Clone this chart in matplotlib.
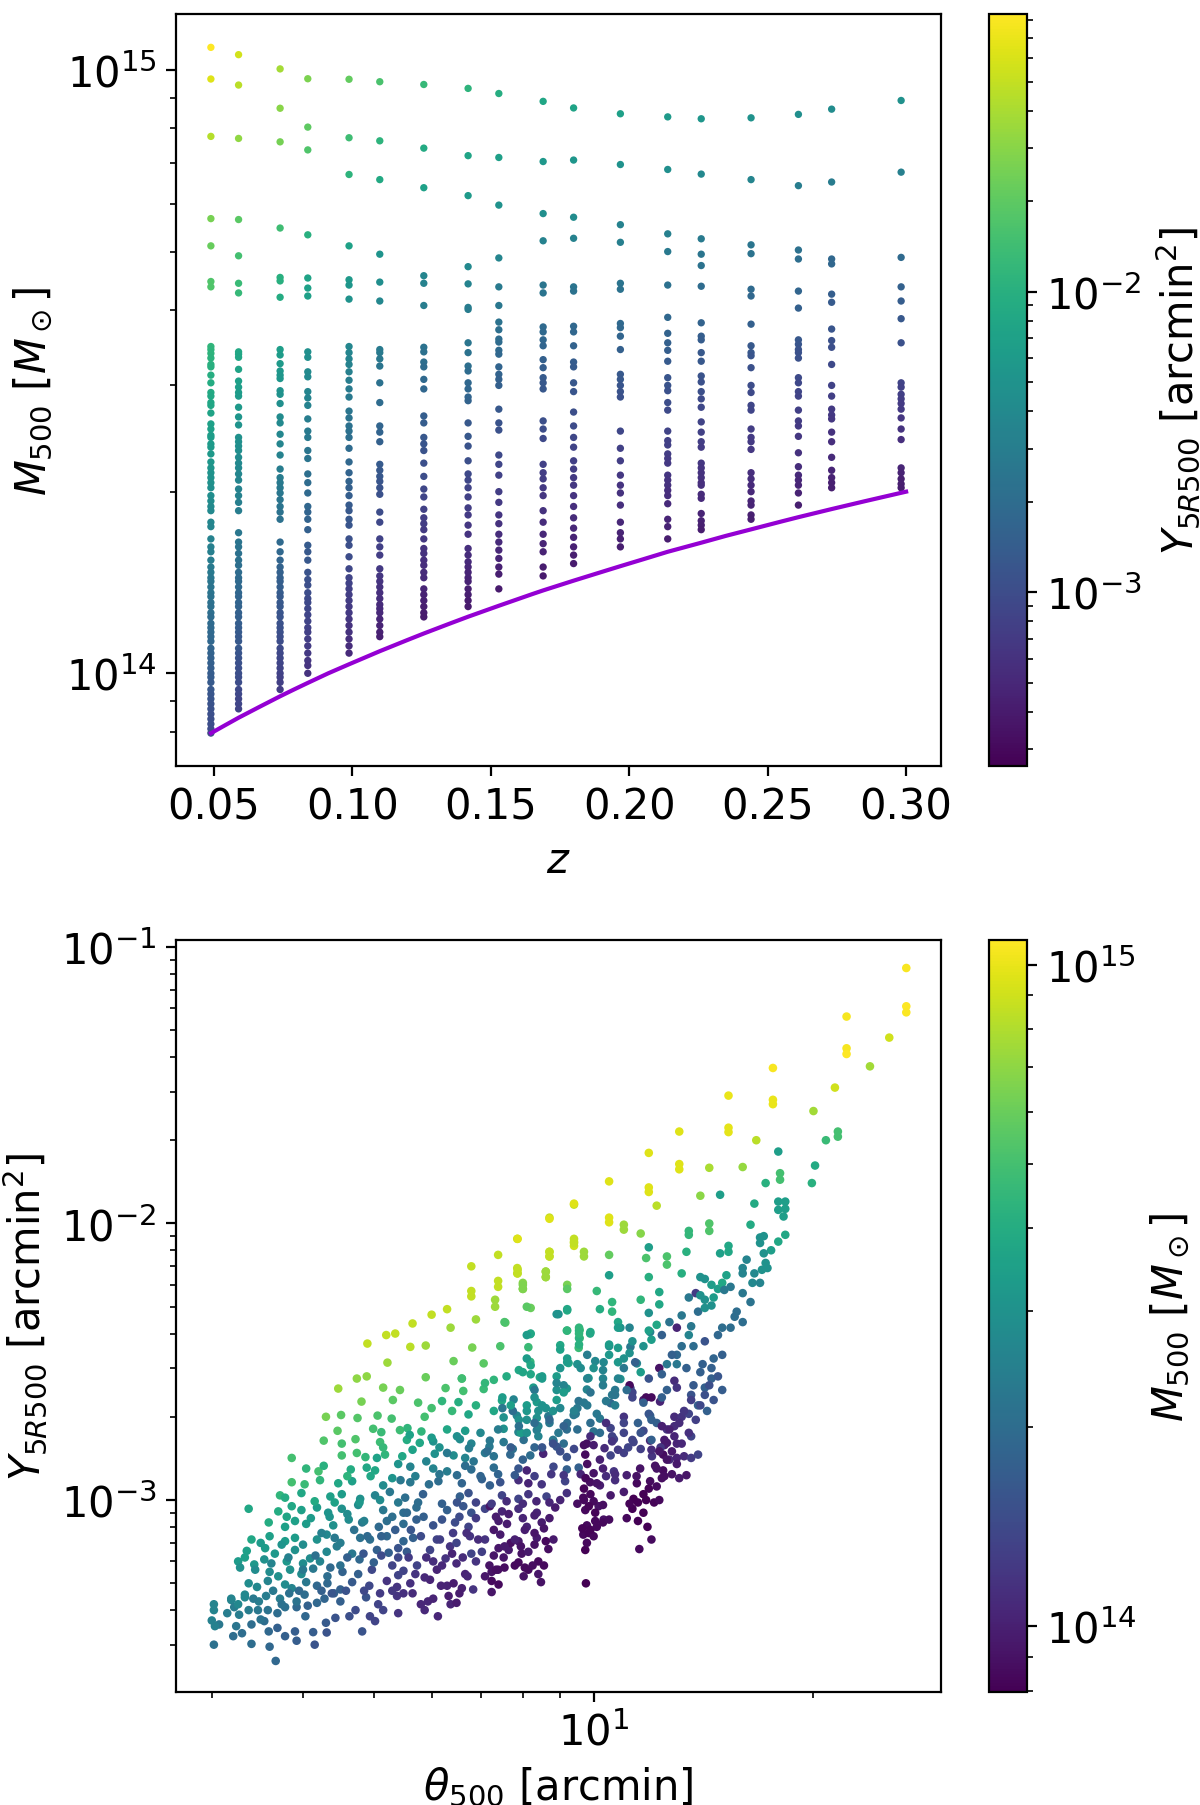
import numpy as np
import matplotlib
matplotlib.use('Agg')
import matplotlib.pyplot as plt
from matplotlib.colors import LogNorm

# top panel: redshift slices, M500 in 1e14 Msun, Y in 1e-3 arcmin^2
z_slices = [0.0489, 0.0589, 0.0739, 0.0839, 0.0988, 0.1099, 0.1258, 0.1418, 0.1529,
            0.1689, 0.1799, 0.1968, 0.2139, 0.2260, 0.2440, 0.2611, 0.2731, 0.2982]

M01 = [10.9,9.66,7.76,5.67,5.11,4.46,4.37,3.48,3.44,3.39,3.33,3.25,3.22,3.12,3.03,2.92,2.88,2.81,2.78,2.70,
       2.59,2.54,2.48,2.46,2.40,2.37,2.31,2.24,2.19,2.15,2.11,2.07,2.03,1.97,1.93,1.89,1.86,1.78,1.75,1.67,
       1.62,1.59,1.54,1.50,1.47,1.44,1.42,1.39,1.36,1.34,1.31,1.29,1.26,1.24,1.21,1.19,1.17,1.15,1.13,1.10,
       1.08,1.06,1.04,1.02,1.00,.985,.966,.94,.924,.907,.89,.873,.856,.84,.824,.809,.796]
Y01 = [83.9,63,44,26,22,17,17,11.5,11.2,11,10.6,10.2,10,9.6,9.1,8.5,8.3,8,7.9,7.5,
       7,6.8,6.5,6.4,6.1,6,5.8,5.5,5.3,5.1,4.9,4.8,4.6,4.4,4.3,4.1,4,3.7,3.6,3.3,
       3.2,3.1,2.9,2.8,2.7,2.6,2.5,2.45,2.4,2.3,2.2,2.15,2.1,2,1.95,1.9,1.85,1.8,1.75,1.65,
       1.6,1.55,1.5,1.45,1.4,1.37,1.33,1.27,1.23,1.2,1.15,1.12,1.08,1.05,1.02,.98,.96]
M02 = [10.6,9.44,7.7,5.65,4.92,4.43,4.27,3.41,3.38,3.34,3.19,3.05,2.98,2.92,2.88,
       2.76,2.66,2.58,2.46,2.42,2.38,2.34,2.28,2.23,2.19,2.14,2.09,
       2.02,1.97,1.92,1.86,1.71,1.65,1.62,1.58,1.54,1.51,1.47,1.44,1.42,1.39,1.36,1.34,1.31,1.29,1.26,1.24,1.21,1.19,1.17,1.15,1.13,
       1.10,1.08,1.06,1.04,1.02,1.0,.985,.966,.94,.924,.907,.89,.873]
Y02 = [56,46,32,19,15,13,12.5,8.4,8.2,8,7.4,6.8,6.5,6.3,6.1,
       5.8,5.3,5.1,4.8,4.65,4.5,4.4,4.2,4.0,3.9,3.75,3.6,
       3.4,3.3,3.1,3,2.6,2.4,2.35,2.25,2.2,2.1,2,1.95,1.9,1.85,1.75,1.7,1.65,1.6,1.55,1.5,1.45,1.4,1.35,1.3,1.3,
       1.25,1.2,1.15,1.1,1.08,1.05,1.03,1,.95,.92,.89,.86,.84]
M03 = [10.04,8.64,7.6,5.47,4.53,4.47,4.2,3.44,3.37,3.26,3.17,3.12,3.08,2.94,2.9,2.8,2.66,2.6,2.49,2.4,2.3,2.18,2.11,2.07,2.03,1.99,1.94,1.89,1.85,1.8,
       1.65,1.59,1.54,1.5,1.47,1.44,1.42,1.39,1.36,1.34,1.31,1.29,1.26,1.24,1.21,1.19,1.17,1.15,1.13,1.1,1.08,1.06,1.04,1.02,1.0,.985,.966,.94]
Y03 = [39,30,25,14,10,10,9,6.5,6.3,6,5.7,5.5,5.4,5,4.9,4.6,4.2,4,3.8,3.6,3.3,3,2.9,2.8,2.7,2.6,2.5,2.4,2.3,2.2,
       1.9,1.8,1.7,1.6,1.55,1.5,1.47,1.43,1.37,1.33,1.28,1.25,1.2,1.18,1.13,1.1,1.07,1.03,1,.96,.93,.9,.87,.85,.82,.8,.77,.74]
M04 = [9.67,8.04,7.37,5.33,4.52,4.35,4.22,3.41,3.34,3.16,3.1,2.93,2.86,2.78,2.64,2.52,2.46,2.34,2.27,2.14,2.07,1.99,1.89,1.85,1.8,1.73,
       1.63,1.59,1.54,1.47,1.43,1.4,1.36,1.33,1.31,1.28,1.25,1.22,1.19,1.17,1.14,1.11,1.08,1.05,1.03,1.0]
Y04 = [27,20,17,10,7.5,7,6.8,4.7,4.5,4.1,4,3.6,3.5,3.3,3,2.8,2.7,2.5,2.4,2.1,2,1.9,1.75,1.65,1.6,1.5,
       1.35,1.3,1.25,1.15,1.1,1.05,1,.97,.95,.9,.87,.84,.8,.78,.75,.72,.68,.65,.63,.6]
M05 = [9.65,7.72,6.71,5.11,4.49,4.4,4.17,3.48,3.4,3.32,3.25,3.16,3.06,2.96,2.87,2.72,2.65,2.57,2.52,2.46,2.36,
       2.24,2.15,2.08,2.03,1.97,1.9,1.86,1.8,1.76,1.67,1.63,1.56,1.49,1.44,1.41,1.38,1.35,1.32,1.29,1.26,1.23,1.2,1.17,1.14,1.11,1.08]
Y05 = [21,14,11,7.1,5.8,5.5,5,3.7,3.6,3.45,3.3,3.2,3,2.8,2.7,2.5,2.35,2.25,2.2,2.1,1.95,
       1.8,1.65,1.6,1.5,1.45,1.35,1.3,1.25,1.2,1.1,1.05,1,.9,.85,.82,.79,.76,.73,.7,.68,.65,.62,.6,.57,.55,.52]
M06 = [9.56,7.63,6.58,4.95,4.45,4.14,3.44,3.4,3.32,3.23,3.03,2.81,2.57,2.51,2.42,2.22,2.17,2.12,2.08,2.03,1.98,
       1.85,1.78,1.67,1.62,1.57,1.49,1.45,1.42,1.39,1.36,1.33,1.3,1.28,1.26,1.23,1.2,1.17,1.15]
Y06 = [16,11,8.5,5.2,4.4,3.8,2.8,2.75,2.65,2.5,2.25,2,1.7,1.65,1.55,1.35,1.3,1.25,1.2,1.15,1.1,
       1,.92,.83,.79,.75,.68,.65,.63,.6,.58,.56,.54,.53,.51,.49,.47,.45,.44]
M07 = [9.46,7.42,6.38,4.56,4.43,4.07,3.47,3.41,3.28,3.22,3.07,2.96,2.67,2.6,2.46,2.4,2.34,2.23,2.12,2.02,1.96,1.87,
       1.81,1.77,1.73,1.67,1.61,1.58,1.54,1.51,1.47,1.44,1.38,1.35,1.32,1.29,1.26,1.24]
Y07 = [12.5,8.8,6.9,3.6,3.4,3,2.3,2.2,2.1,2,1.85,1.75,1.45,1.4,1.25,1.2,1.15,1.08,1,.9,.87,.8,
       .76,.73,.7,.67,.62,.6,.58,.56,.54,.52,.48,.46,.45,.43,.41,.4]
M08 = [9.32,7.21,6.19,4.72,4.42,4.04,4.01,3.53,3.4,3.23,3.17,3.03,2.96,2.87,2.83,2.6,2.47,2.38,2.25,2.14,2.09,2.03,1.96,1.88,1.83,
       1.76,1.7,1.61,1.57,1.53,1.5,1.47,1.44,1.42,1.38,1.35,1.32,1.29]
Y08 = [11,7.7,6,4,3.5,3,2.9,2.5,2.3,2.1,2,1.8,1.75,1.7,1.6,1.3,1.25,1.15,1.05,.95,.9,.85,.8,.75,.72,
       .67,.63,.58,.55,.53,.5,.48,.47,.46,.44,.43,.41,.4]
M09 = [9.14,7.16,5.97,4.88,4.37,4.07,3.82,3.71,3.58,3.54,3.43,3.38,3.22,3.13,3.07,3.0,
       2.74,2.6,2.53,2.3,2.22,2.13,2.0,1.92,1.83,1.77,1.7,1.65,1.6,1.55,1.5,1.46,1.38]
Y09 = [9.5,6.7,5,3.6,2.8,2.6,2.3,2.1,2,2,1.9,1.8,1.65,1.6,1.55,1.5,
       1.25,1.15,1.1,.95,.88,.82,.75,.7,.64,.6,.56,.53,.5,.48,.45,.43,.4]
M10 = [8.87,7.05,5.78,5.21,4.4,4.27,3.75,3.68,3.57,3.49,3.31,3.21,3.09,3.03,2.96,
       2.62,2.54,2.45,2.22,2.15,2.1,2.03,1.97,1.86,1.78,1.7,1.64,1.59,1.5,1.45]
Y10 = [8,5.7,4.5,3.4,2.5,2.4,1.9,1.85,1.75,1.7,1.5,1.45,1.35,1.3,1.25,
       1.05,1,.95,.8,.75,.73,.68,.65,.6,.55,.5,.48,.46,.42,.4]
M11 = [8.65,7.09,5.7,5.26,4.37,4.3,3.76,3.68,3.49,3.28,3.22,3.03,2.93,
       2.71,2.57,2.46,2.37,2.25,2.18,2.11,2.05,1.97,1.89,1.81,1.74,1.68,1.62,1.57,1.52]
Y11 = [7.5,5.4,4.3,3.4,2.4,2.3,1.8,1.75,1.6,1.4,1.35,1.25,1.2,
       1.05,.98,.9,.85,.78,.74,.7,.67,.63,.58,.54,.5,.47,.45,.43,.41]
M12 = [8.46,6.97,5.54,5.18,4.43,4.33,3.8,3.74,3.62,3.44,3.13,3.07,3.0,2.93,2.87,
       2.52,2.36,2.25,2.13,2.05,1.99,1.9,1.78,1.71,1.67,1.62]
Y12 = [6.8,5,3.4,3.1,2.4,2.3,1.85,1.8,1.7,1.5,1.3,1.25,1.2,1.15,1.1,
       .9,.8,.75,.67,.63,.6,.57,.5,.47,.45,.43]
M13 = [8.36,6.84,5.35,5.0,4.4,3.89,3.66,3.53,3.43,3.29,3.09,3.0,2.94,
       2.81,2.73,2.52,2.43,2.39,2.31,2.27,2.23,2.13,2.09,2.05,2.01,1.97,1.91,1.8,1.75,1.67]
Y13 = [6,4.5,3.2,2.7,2.2,1.8,1.6,1.5,1.45,1.35,1.2,1.15,1.1,
       1.03,.97,.85,.8,.78,.73,.71,.69,.64,.62,.6,.58,.56,.53,.48,.46,.42]
M14 = [8.3,6.72,5.25,4.95,4.74,4.38,3.81,3.62,3.57,3.4,3.29,3.11,3.04,2.93,
       2.85,2.76,2.61,2.51,2.42,2.37,2.23,2.19,2.15,2.11,2.07,2.05,1.98,1.95,1.84,1.79,1.76,1.73]
Y14 = [5.4,3.9,2.8,2.5,2.3,2,1.6,1.45,1.4,1.3,1.25,1.15,1.1,1.05,
       .97,.93,.85,.8,.75,.72,.65,.63,.62,.6,.58,.57,.54,.52,.47,.45,.44,.42]
M15 = [8.33,6.58,5.13,4.96,4.33,4.22,3.79,3.49,3.4,3.36,3.21,3.0,2.92,
       2.78,2.73,2.54,2.46,2.42,2.35,2.15,2.1,2.05,2,1.93,1.9,1.83,1.8]
Y15 = [5,3.6,2.5,2.35,1.9,1.8,1.5,1.3,1.25,1.2,1.1,1,.97,
       .89,.87,.76,.72,.7,.67,.58,.56,.53,.51,.48,.47,.44,.43]
M16 = [8.44,6.43,5.03,4.86,4.3,4.03,3.57,3.51,3.44,3.4,3.33,3.09,3.03,2.93,2.88,
       2.73,2.62,2.57,2.47,2.32,2.2,2.13,2.09,2.05,1.99,1.9]
Y16 = [4.6,3,2.2,2.05,1.7,1.5,1.25,1.2,1.15,1.1,1.1,.96,.93,.88,.85,
       .78,.73,.7,.66,.6,.55,.52,.5,.48,.46,.43]
M17 = [8.61,6.52,4.86,4.77,4.25,4.12,3.72,3.56,3.47,3.25,3.0,2.88,
       2.74,2.68,2.64,2.51,2.42,2.28,2.17,2.11,2.07,2.03]
Y17 = [4.3,2.9,1.8,1.75,1.45,1.35,1.2,1.1,1.05,.95,.82,.77,
       .71,.68,.66,.6,.57,.52,.48,.46,.44,.43]
M18 = [8.9,6.77,4.89,4.37,4.14,3.87,3.53,3.03,2.98,
       2.9,2.85,2.8,2.74,2.65,2.54,2.44,2.19,2.15,2.1,2.06,2.03]
Y18 = [4.8,3.2,1.9,1.55,1.4,1.25,1.1,.84,.8,
       .78,.75,.72,.7,.66,.62,.58,.48,.46,.44,.43,.42]

M_slices = [M01,M02,M03,M04,M05,M06,M07,M08,M09,M10,M11,M12,M13,M14,M15,M16,M17,M18]
Y_slices = [Y01,Y02,Y03,Y04,Y05,Y06,Y07,Y08,Y09,Y10,Y11,Y12,Y13,Y14,Y15,Y16,Y17,Y18]

# mass limit curve
z_limit = [0.049,0.054,0.0589,0.0665,0.0739,0.0789,0.0839,0.0913,0.0988,0.1099,0.12,0.1258,0.135,0.1418,0.1529,
           0.165,0.1689,0.1799,0.19,0.1968,0.205,0.2139,0.226,0.235,0.244,0.255,0.261,0.273,0.285,0.30]
M_limit = [7.96,8.2,8.44,8.8,9.16,9.4,9.64,10.0,10.35,10.88,11.36,11.64,12.08,12.41,12.94,
           13.53,13.72,14.24,14.72,15.05,15.45,15.9,16.46,16.9,17.32,17.85,18.14,18.71,19.28,20.0]

# bottom panel, band of faint clusters: theta500 arcmin, Y in 1e-3 arcmin^2, M500 in 1e14 Msun
theta_low = [3.67,3.02,3.40,3.60,3.21,3.78,3.92,4.15,4.13,4.31,
    4.82,3.90,3.69,3.59,3.30,3.24,3.40,3.07,3.0,3.03,
    3.02,3.02,3.19,3.22,3.27,3.33,3.37,3.47,3.54,3.58,
    3.69,3.78,3.92,4.03,4.30,4.43,4.63,4.72,4.94,5.02,
    5.15,5.40,5.87,6.12,6.37,6.84,7.25,8.47,9.76,11.55,12.0,
    3.19,3.26,3.33,3.48,3.56,3.72,3.92,4.02,4.18,4.28,4.41,4.50,4.88,5.07,5.38,5.49,5.93,6.03,6.33,6.49,
    3.37,3.46,3.58,3.78,3.86,4.04,4.18,4.32,4.50,4.67,4.93,5.21,5.38,5.61,5.97,6.30,6.43,6.60,7.25,7.41,
    3.60,3.70,3.84,3.98,4.13,4.32,4.53,4.76,4.97,5.40,5.49,5.70,5.87,6.10,6.67,7.25,8.02,8.14,8.40,
    3.26,3.33,3.43,3.54,3.80,4.0,4.09,4.22,4.50,4.78,5.0,5.40,5.73,6.03,6.27,6.49,6.90,7.2,7.53,7.89,8.40,
    3.35,3.55,3.66,3.9,4.31,4.45,4.67,5.05,5.24,5.4,5.55,5.97,6.36,6.8,7.03,7.41,7.65,7.97,8.14,8.67,9.74,
    3.4,3.6,3.78,3.9,4.18,4.31,4.5,4.79,4.94,5.21,5.49,5.66,6.1,6.49,6.77,7.1,7.45,7.89,8.36,8.81,9.79,9.68,
    3.59,3.78,3.9,4.04,4.4,4.62,4.82,5.08,5.21,5.49,5.72,6.03,6.46,6.74,7.41,7.61,8.1,8.49,9.79,10.05,10.32]
Y_low = [.262,.30,.302,.295,.322,.322,.31,.30,.333,.332,
    .335,.335,.345,.335,.33,.35,.355,.355,.367,.35,
    .42,.40,.435,.41,.385,.445,.40,.40,.365,.40,
    .39,.41,.41,.38,.36,.375,.38,.40,.38,.365,
    .40,.39,.40,.38,.42,.475,.465,.505,.50,.665,.72,
    .44,.42,.455,.43,.45,.44,.43,.455,.425,.44,.46,.43,.445,.42,.45,.46,.43,.44,.45,.425,
    .50,.485,.51,.495,.48,.505,.49,.50,.475,.505,.49,.51,.485,.50,.515,.49,.50,.48,.51,.495,
    .55,.53,.56,.54,.565,.53,.55,.54,.56,.535,.555,.54,.525,.56,.54,.55,.53,.56,.54,
    .60,.62,.585,.61,.60,.59,.615,.60,.58,.61,.595,.62,.58,.60,.615,.59,.60,.58,.62,.595,.60,
    .655,.67,.64,.66,.65,.68,.64,.66,.645,.67,.65,.66,.68,.64,.65,.67,.66,.64,.65,.665,.66,
    .72,.74,.71,.73,.72,.75,.70,.73,.72,.74,.71,.73,.72,.70,.74,.72,.75,.71,.73,.72,.70,.75,
    .83,.80,.84,.82,.81,.85,.83,.80,.84,.82,.85,.81,.83,.80,.84,.82,.80,.83,.81,.84,.85]
M_low = [1.9,2.1,2.0,1.9,2.0,1.75,1.7,1.55,1.7,1.55,
    1.55,1.7,1.75,1.9,2.0,2.2,2.0,2.27,2.5,2.5,
    2.6,2.6,2.6,2.4,2.4,2.7,2.4,2.27,2.0,2.15,
    2.0,2.05,1.9,1.9,1.65,1.55,1.5,1.45,1.35,1.35,
    1.35,1.18,1.08,1.05,1.03,1.18,.92,.9,.8,.84,.86,
    2.6,2.7,2.7,2.4,2.4,2.4,2.15,2.0,1.9,1.85,1.75,1.75,1.55,1.35,1.18,1.15,1.05,1.03,.97,.97,
    2.8,2.7,2.6,2.8,2.6,2.27,1.9,1.9,1.75,1.65,1.4,1.18,1.18,1.15,1.03,1.03,.97,1.0,.85,.85,
    2.8,2.95,2.95,2.8,2.27,2.0,1.8,1.75,1.4,1.35,1.35,1.18,1.08,1.03,1.03,.9,.9,.85,.92,
    3.3,3.5,3.2,2.95,3.2,2.8,2.8,2.6,2.1,1.9,1.75,1.4,1.35,1.12,1.18,1.08,1.18,.9,.92,.85,.85,
    3.5,3.35,3.2,2.95,2.7,2.4,2.27,1.75,1.75,1.55,1.65,1.35,1.18,1.35,1.3,.93,.95,.9,.95,.88,.8,
    3.8,3.5,3.35,3.35,2.95,2.7,2.4,2.1,2.05,1.9,1.85,1.75,1.35,1.35,1.18,1.18,.95,.95,.97,.95,.84,.84,
    4.0,3.5,3.5,3.35,2.95,2.8,2.27,1.95,2.05,2.0,1.75,1.55,1.45,1.35,.97,.97,1.03,.97,.84,.84,.9]

# middle of the cloud
theta_mid = [3.37,3.7,3.86,3.98,4.18,4.33,4.52,4.76,5.15,5.49,5.72,6.3,6.63,6.8,7.1,7.21,7.49,7.89,8.36,8.86,9.74,10.16,11.3,11.7,
    3.72,3.78,3.98,4.36,4.52,4.79,5.02,5.26,5.52,5.84,6.56,6.74,7.49,7.89,8.14,8.62,9.19,9.68,10.55,11,11.34,11.7,
    3.86,4.02,4.22,4.47,4.67,5.15,5.44,5.61,5.95,6.13,6.6,7.03,7.21,7.45,7.89,8.14,8.49,9.14,9.89,10.2,10.7,11.46,11.95,
    4.04,4.2,4.27,4.65,4.89,5.02,5.61,6.03,6.3,6.67,6.8,7.3,7.89,8.1,8.81,9.19,9.54,10.66,11.58,12.14,12.45,
    3.86,4.52,4.74,4.87,5.18,5.47,6.06,6.43,6.67,7.1,7.3,7.69,8.19,8.53,9.19,9.74,10.55,11,12.02,12.45,
    4.27,4.52,4.72,5.1,5.55,5.78,6.03,6.56,6.8,7.21,7.53,8.02,8.81,9.79,10.66,11.34,11.95,12.6,
    4.46,4.99,5.12,5.43,5.56,5.81,6.3,6.67,7.53,7.89,8.36,9.19,10,10.55,11.7,12.6,
    4.3,4.51,4.75,5.06,5.29,5.87,6.74,7.53,7.85,8.36,8.67,9.39,10.2,11,11.95,
    4.81,5.31,5.75,6.2,6.53,7.49,7.77,8.36,9.54,10.55,11.7,12.33,
    4.47,5.15,5.43,6.27,6.63,7.07,8.27,8.9,9.19,9.79,11.23,12.6,
    4.74,4.89,5.89,6.6,7.3,8.44,8.9,9.84,10.88,
    5.22,6.43,7.07,8.19,9.24,10.05,10.32,11.46,
    5.61,5.89,6.82,7.45,8.14,9,9.54,10.5,11.23,
    4.9,5.2,5.35,5.65,6.0,6.3,6.37,6.9,7.57,8.19,9.19,9.57,9.57,9.89,10.88,11.95]
Y_mid = [.93,.91,.95,.92,.94,.90,.93,.96,.92,.90,.94,.92,.95,.90,.93,.95,.91,.93,.90,.94,.92,.95,.93,.90,
    1.04,1.02,1.06,1.03,1.05,1.01,1.04,1.07,1.02,1.05,1.03,1.06,1.04,1.01,1.05,1.03,1.06,1.02,1.04,1.07,1.01,1.05,
    1.16,1.14,1.18,1.15,1.17,1.13,1.18,1.16,1.14,1.17,1.15,1.19,1.13,1.16,1.18,1.15,1.14,1.17,1.16,1.13,1.18,1.15,1.17,
    1.30,1.27,1.33,1.29,1.31,1.28,1.32,1.30,1.27,1.33,1.29,1.31,1.30,1.28,1.32,1.29,1.31,1.27,1.30,1.33,1.28,
    1.42,1.45,1.48,1.43,1.46,1.44,1.47,1.45,1.42,1.48,1.44,1.46,1.45,1.47,1.43,1.46,1.45,1.48,1.44,1.46,
    1.64,1.60,1.66,1.62,1.65,1.61,1.63,1.66,1.60,1.64,1.62,1.65,1.63,1.60,1.66,1.62,1.64,1.61,
    1.78,1.81,1.76,1.79,1.82,1.77,1.80,1.78,1.81,1.76,1.79,1.80,1.77,1.82,1.78,1.80,
    2.0,2.03,1.98,2.02,1.97,2.0,2.04,1.99,2.02,1.98,2.01,2.03,1.97,2.0,2.02,
    2.27,2.30,2.25,2.28,2.26,2.29,2.31,2.26,2.28,2.24,2.3,2.27,
    2.53,2.55,2.5,2.54,2.48,2.52,2.55,2.5,2.53,2.51,2.54,2.5,
    2.75,2.8,2.78,2.75,2.72,2.78,2.8,2.76,2.74,
    3.14,3.18,3.12,3.16,3.13,3.18,3.15,3.12,
    3.58,3.62,3.56,3.6,3.57,3.63,3.55,3.6,3.58,
    3.68,3.95,4.0,4.35,4.68,4.9,4.2,4.5,4.38,3.98,4.1,4.12,3.85,4.0,4.2,4.05]
M_mid = [3.8,4,3.8,3.5,3.35,3.1,2.95,2.8,2.27,2.0,2.0,1.75,1.6,1.55,1.35,.92,1.03,1.12,1.03,.97,.84,.9,.8,.8,
    4.4,4.0,3.8,3.5,3.35,2.95,2.6,2.27,2.05,1.75,1.75,1.55,1.35,1.35,1.2,1.35,1.15,.84,.95,.97,.8,.8,
    5,4.7,4.4,3.8,3.5,2.8,2.27,2.27,2.05,2.0,1.85,1.75,1.75,1.55,1.12,1.03,1.18,1.35,.88,.97,1.12,.84,.86,
    4.4,5,4.2,4,3.8,3.8,2.6,2.6,2.4,2.0,2.0,2.0,1.6,1.03,1.4,1.75,1.75,1.18,.9,.9,.86,
    5,5,5,4.5,4.4,3.8,2.95,2.8,2.6,2.27,2.15,1.9,2.0,1.03,1.55,.86,1.35,1.3,1.18,.86,
    5.3,5,5.3,4.8,4,3.8,3,2.8,2.6,2.27,2.27,2.05,2.0,.88,1.35,1.35,1.03,.95,
    5.6,5,4.7,4.8,4.4,4.4,3.8,3.35,2.95,2.6,2.4,2,2.15,1.35,1.4,1.18,
    6.4,5.6,5.4,5.2,5,5,3.8,2.95,2.6,2.95,2.27,2.27,2.27,1.18,1.75,
    6.4,5.6,5.2,4.4,4.1,3.8,2.6,3.35,2.15,1.9,.95,1.03,
    7.4,6.4,6,5.2,5,4.7,3.35,2.95,3.15,2.6,1.35,1.75,
    7,7,6,5.2,4.4,3.8,3.35,3.15,2.95,
    7.4,6,5.6,4.4,3.8,2.7,2.7,2.6,
    8.3,7.4,6.4,5.2,4.7,3.8,4.7,2.95,2.27,
    8.6,8.6,8.6,8.6,8.6,8.6,7.4,7.4,5.6,4.4,4.4,5,5,3.8,2.95,2.6]

# upper ridge and upper right of the cloud
theta_high = [9.4,8.7,7.86,7.4,6.8,9.4,9.4,8.7,8.7,7.86,7.86,8.6,8.6,9.2,7.4,7.4,8.0,8.0,6.8,6.8,
    8.2,9.2,8.95,7.33,7.33,9.55,9.55,9.55,
    26.8,26.8,26.8,22.2,25.4,22.2,22.2,23.9,17.6,21.4,15.3,17.6,17.6,20,15.3,15.3,13.1,21.6,21.6,20.8,
    16.7,17.9,11.9,13.1,13.1,14.4,16,20.1,18,18,19.9,17.2,10.5,11.9,11.9,14,14.9,12.2,16.6,17.9,18.3,18.3,
    17.9,18.2,9.4,10.5,10.5,11,11,16.4,14.4,14.4,13.5,13.5,11.6,8.7,7.87,9.4,9.4,8.7,8.7,9.7,
    9.7,10.5,11.9,11.8,12.6,12.6,13.4,15.3,15.3,14.9,16.9,16.9,17.1,18.3,17.9,16.2,17.5,17.1,17.2,17.3,
    17,7.87,7.87,8.6,8.6,8,8,9.2,10.5,11.9,13.2,16,16,14,14.2,15.2,16.6,16.5,16.9,14.5,
    14.8,15,15.4,15.1,10.1,11.6,12.3,12.3,10.6,10.6,13.5,13.8,16,16.4,14,14.2,14.6,14.5,8.1,9.2,
    8.9,10.2,11.9,13.2,13.9,14.2,15.7,16,15.6,7.55,9.55,9.55,9.2,9.9,10.8,10.8,11.2,12.2,11.9,12.7,
    13,12.4,13.6,13.5,15,15.4,14.8,14.2,8.2,8.1,12,10.5,11.3,11.7,13.7,9,9.8,10.8,11.2,13.2,
    13,12.8,15,14.6,8.1,8.2,9.2,9.2,10.5,10.8,11,9.5,11.4,12.6,13,13.4,14.1,14.5,14,7.9,
    8.2,8.5,10,10.3,11,12.3,11.6,12.4,14.5,9.8,10.3,10.8,11.9,8.3,8.9,9.1,9.1,11.2,11.3,12.9,
    13,14.2,13.7,10.7,9.9,7.5,8.3,8.9,11.8,12,12.4,13.6,11.3,9.7,10.6,10.4,10.7,13.9,14.3,8.1,
    8.4,8.6,9.5,11.7,7.75,8.8,10.1,11,11.9,12.9,13.2,13.5,9.45,9.2,7.5,7.9,8.1,8.7,8.4,9.9,
    10.4,11.5,12.2,12.9,12.4,13.6,11.6,11,12,8.95,9.5,9.9,10.2,7.95,8.1,8.4,10.6,12.9,11.3,12,
    8.8,9.1,9.7,10,10.6,12.5,13]
Y_high = [11.7,10.5,8.8,7.7,7.0,8.6,8.3,7.9,7.6,6.9,6.6,6.7,6.4,6.0,6.2,5.9,6.1,5.8,5.7,5.45,
    4.95,4.85,4.7,5.3,5.0,4.1,3.85,3.65,
    83.9,61,58,56,47,43,41,37,36.5,31,29,28,27,25.5,22.2,21.4,21.5,21.5,20.6,20,
    20,18.2,18,16.4,15.7,15.9,16,16.2,15.2,14.4,14,14,14.2,13.5,13,12.6,12.7,11.6,11.8,12,12,11.3,
    11.2,10.6,11.8,10.5,10.1,9.9,9.5,9.9,10,9.4,9.4,9.1,9.2,10.4,8.8,8.8,8.5,7.9,7.6,7.9,
    7.6,7.7,8.2,7.5,7.6,7.1,7.9,8.3,7.9,7.8,8.9,8.5,9,9.1,8.6,7.4,8,7.8,7.2,6.9,
    6.8,6.8,6.6,6.7,6.4,6,5.8,5.8,6.5,6.4,6.6,6.9,6.6,6.4,6.3,6.5,6.6,6.1,6.1,6,
    5.8,6.1,5.9,5.75,5.7,5.3,5.65,5.1,5.2,4.8,5.4,5.6,5.6,5.2,5.5,5.3,5.4,5.05,5,4.9,
    4.7,4.9,4.75,4.65,4.8,4.95,4.8,4.4,4.6,4.4,4.2,4,4.1,4.05,4.4,4.2,4.2,4.3,4.1,4.4,
    4.2,3.95,4.25,3.95,4.2,4.2,3.95,3.75,4,3.95,3.8,3.65,3.75,3.6,3.6,3.5,3.35,3.55,3.4,3.6,
    3.35,3.35,3.35,3.25,3.25,3.07,3.25,3.15,3.35,3.15,3.25,3.1,3.15,3.1,3.1,3,3.1,3,2.9,2.95,
    2.85,2.8,3,2.95,3,3,2.9,2.85,2.75,2.75,2.75,2.75,2.75,2.5,2.65,2.6,2.45,2.6,2.45,2.7,
    2.55,2.55,2.6,2.5,2.45,2.35,2.35,2.3,2.35,2.35,2.35,2.4,2.35,2.25,2.4,2.28,2.2,2.2,2.1,2.2,
    2.1,2.15,2.15,2.25,2.1,2.1,2.05,1.9,2.05,2,2,2.05,2.05,1.9,2.15,1.95,1.95,1.9,1.85,1.9,
    1.9,1.9,1.9,1.85,1.85,1.7,1.75,1.75,1.95,1.75,1.8,1.7,1.75,1.75,1.75,1.7,1.7,1.7,1.65,1.65,
    1.65,1.6,1.58,1.58,1.63,1.58,1.6]
M_high = [8.6,8.6,8.6,8.6,8.6,8.9,8.9,8.6,8.6,8.6,8.6,7.4,7.4,6.4,8.6,8.6,6.8,6.8,8.6,8.6,
    6.0,4.0,2.95,7.4,7.4,4.2,4.2,4.2,
    10.6,10.9,10.7,10.5,9,10.5,10.9,7.6,10.6,9,10,10,10,7.6,9.8,9.8,9.6,5,5,4.7,
    8.3,3.4,9.6,9.6,9.6,7.8,7.2,3.9,5,5,4.2,4.2,9.6,9.6,9.6,6.9,3.4,8.3,3.9,3.4,3.4,3.4,
    3.4,3.4,9.6,9.6,9.6,7.4,7.4,3.9,5.3,5.3,4.5,4.5,6.8,9.6,9.6,8.6,8.6,8.6,8.6,7.4,
    7.4,5.8,3.4,5.2,5.2,5.2,4.2,3.8,3.8,3.5,3,3,3,3.8,3.8,2.6,3.4,3,3,3,
    3,8.6,8.6,7.4,7.4,6.6,6.6,5.6,3.4,4.1,4.1,2.6,2.6,3,3,3.6,2.7,2.7,2.6,3.4,
    3.4,3.8,2.27,2.27,4.6,4.4,3.8,3.8,4.4,4.4,2.27,1.25,2.27,2.15,2.95,2.95,3.35,2.95,5.6,3.8,
    3,4,2.95,2.27,2,2.95,2,2,2,5.2,4.4,4.4,4.4,3.8,3.8,3.35,2.6,3.8,3.5,2.15,
    1.03,1.75,2.27,2.6,2,2,1.9,1.55,3.8,3.35,3.4,3.35,2.95,2.95,2,3.6,2.4,3.35,2.95,2,
    1.9,1.75,1.75,1.85,3.35,3.8,3.35,3.35,3.2,3.2,2.95,2.95,1.75,2.27,2.27,1.75,1.75,1.75,1.75,3.8,
    3.8,3.35,2.95,2.6,2.27,.9,3.35,1.75,1.75,2.6,2.6,2.6,1.55,2.27,2.6,2.6,3.35,.85,1.35,1.1,
    1.18,1.75,1.65,2.27,2.15,3.35,2.95,3.35,.85,.85,1.75,1.55,1.35,2.27,2.27,2.27,2.4,1.75,1.75,3.35,
    2.95,2.95,2.27,1.75,2,2.95,2.27,1.35,1.6,1.1,1.18,1.35,2.27,2,2.27,2.95,2.95,2.27,2.6,2,
    1.1,1.75,1.75,1.1,1.0,1.35,1.55,1.35,1.75,2.27,2,1.1,2,3.35,2.95,2.6,1.35,1.03,1.35,1.75,
    2.27,2.05,.88,.97,1.18,.97,1.03]

# extra dense clumps of the lower band and the dark streaks
theta_fill = [3.15,3.42,3.5,3.64,3.74,3.83,3.95,4.06,4.24,4.38,4.58,4.85,5.1,5.3,5.65,5.8,6.18,6.55,6.72,7.1,7.35,7.55,7.8,8.05,8.25,8.55,
    3.28,3.44,3.62,3.82,4.0,4.16,4.36,4.6,4.84,5.12,5.3,5.58,5.9,6.2,6.4,6.62,7.3,7.4,7.7,7.95,8.3,8.6,
    3.5,3.74,4.0,4.24,4.42,4.7,4.9,5.12,5.35,5.62,5.8,6.16,6.42,6.7,6.95,7.3,7.55,7.8,8.05,8.3,8.55,9.65,9.85,10.0,
    3.8,4.1,4.35,4.6,4.85,5.3,5.55,5.85,6.2,6.55,6.9,7.35,7.65,8.0,8.3,8.7,9.9,10.1,10.3,10.5,11.1,11.5,11.85,
    4.15,4.42,4.78,5.1,5.4,5.75,6.2,6.5,6.9,7.25,7.6,8.0,8.35,8.7,9.0,9.5,9.7,10.0,10.3,11.2,11.5,11.8,12.1,12.3,
    4.6,4.95,5.3,5.7,6.15,6.5,7.0,7.4,7.8,8.3,8.75,9.1,9.6,10.4,10.7,11.1,11.45,11.9,12.2,12.5,12.8,13.1,13.4,
    5.15,5.65,6.15,6.75,7.2,7.75,8.3,8.9,9.4,10.35,10.8,11.15,11.6,12.0,12.35,12.7,13.0,13.3,13.6,13.9,
    12.2,12.3,12.4,12.5,12.6,12.7,12.8,13.0,13.1,13.2,13.3,13.5,13.6,13.8,14.0,14.2,14.4,14.6,14.8,15.0,
    9.7,9.75,9.8,9.85,9.9,10,10.05,10.1,10.2,10.3,
    5.05,5.4,5.9,6.3,6.85,7.15,7.7,8.0,8.5,8.8,9.0,5.6,6.0,6.5,7.0,7.4,7.9,8.3,8.7,9.1,
    6.0,6.4,6.9,7.3,7.7,8.1,8.5,9.0,9.4,9.8,10.3,10.7,11.1,6.6,7.1,7.6,8.0,8.5,9.0,9.6]
Y_fill = [.39,.44,.37,.47,.42,.46,.47,.415,.47,.46,.47,.47,.46,.47,.46,.42,.49,.46,.53,.53,.56,.57,.58,.57,.58,.58,
    .57,.56,.59,.62,.56,.63,.57,.62,.64,.63,.58,.62,.62,.58,.64,.62,.63,.56,.7,.68,.69,.71,
    .7,.69,.69,.76,.73,.78,.74,.74,.78,.78,.74,.72,.76,.76,.72,.78,.68,.72,.78,.76,.79,.79,.76,.74,
    .87,.86,.87,.89,.84,.87,.9,.87,.85,.87,.86,.87,.89,.86,.88,.86,.78,.8,.83,.85,.86,.84,.8,
    .99,.98,.98,1.0,.98,.98,.97,.98,.98,.97,.99,.97,.99,.98,1.0,.97,1.0,.99,.96,.97,.98,1.0,.98,1.0,
    1.22,1.22,1.2,1.22,1.24,1.23,1.22,1.24,1.23,1.22,1.24,1.23,1.24,1.22,1.24,1.23,1.22,1.1,1.12,1.22,1.24,1.2,1.23,
    1.55,1.52,1.55,1.54,1.56,1.53,1.55,1.56,1.53,1.54,1.52,1.55,1.53,1.52,1.55,1.4,1.42,1.44,1.42,1.46,
    1.3,1.5,1.2,1.65,1.4,1.8,1.5,1.35,1.9,1.6,2.1,1.75,2.3,1.95,2.2,2.4,2.6,2.3,2.8,2.5,
    1.1,1.2,1.35,.95,1.05,1.25,.9,1.15,1.4,1.3,
    1.42,1.35,1.38,1.48,1.38,1.5,1.55,1.4,1.55,1.6,1.5,1.72,1.68,1.7,1.75,1.8,1.85,1.9,1.95,1.85,
    2.15,2.1,2.2,2.1,2.2,2.1,2.2,2.15,2.1,2.2,2.6,2.4,2.5,2.75,2.65,2.8,2.9,2.75,3.0,3.0]
M_fill = [2.4,2.3,2.15,2.3,2.1,2.1,1.95,1.8,1.75,1.6,1.55,1.4,1.25,1.2,1.1,1.05,1.03,.97,1.05,.93,.88,.88,.85,.85,.88,.85,
    2.95,2.8,2.6,2.5,2.3,2.1,1.95,1.75,1.6,1.45,1.35,1.25,1.12,1.08,1.03,1.1,.92,.88,.88,.9,.9,.84,
    3.3,3.1,2.85,2.5,2.3,2.1,1.95,1.8,1.7,1.6,1.45,1.3,1.25,1.12,1.1,.92,.95,1.0,.98,.92,.92,.82,.82,.84,
    3.7,3.3,3.1,2.8,2.5,2.05,1.95,1.75,1.55,1.45,1.25,.97,.98,1.03,1.0,.95,.82,.84,.84,.86,.84,.8,.8,
    3.9,3.6,3.2,2.8,2.3,2.0,1.75,1.55,1.35,1.25,1.1,1.1,1.05,1.05,1.03,.88,.84,.86,.88,.82,.8,.8,.82,.84,
    4.3,3.8,3.1,2.45,2.2,2.0,1.85,1.85,1.65,1.3,1.2,1.2,1.05,1.1,1.1,1.0,.9,.82,.86,.88,.9,.95,.92,
    4.6,3.6,3.0,2.4,2.3,2.05,1.85,1.6,1.4,1.1,1.25,1.35,1.3,1.1,1.2,1.1,1.03,1.1,1.25,1.35,
    .9,.92,.88,.95,.9,1.0,.95,.95,1.1,1.05,1.2,1.15,1.3,1.3,1.4,1.5,1.5,1.55,1.6,1.7,
    .82,.84,.88,.82,.84,.9,.82,.9,1.0,1.0,
    3.6,3.1,2.6,2.3,2.2,2.0,1.7,1.8,1.6,1.5,1.5,3.6,3.3,2.9,2.7,2.4,2.1,2.0,1.9,1.8,
    5,4.6,4.2,3.8,3.5,3.2,3.0,2.7,2.5,2.3,2.4,2.2,2.0,4.9,4.5,4.0,3.7,3.3,3.1,2.8]

norm_Y = LogNorm(vmin=2.64e-4, vmax=8.39e-2)
norm_M = LogNorm(vmin=7.96e13, vmax=1.09e15)

z_all = np.concatenate([np.full(len(m), z) for z, m in zip(z_slices, M_slices)])
M_all = np.concatenate([np.array(m) for m in M_slices]) * 1e14
Y_all = np.concatenate([np.array(y) for y in Y_slices]) * 1e-3

theta2 = np.array(theta_low + theta_mid + theta_high + theta_fill)
Y2 = np.array(Y_low + Y_mid + Y_high + Y_fill) * 1e-3
M2 = np.array(M_low + M_mid + M_high + M_fill) * 1e14

W, H = 1200.0, 1806.0
plt.rcParams['font.size'] = 15

fig = plt.figure(figsize=(W / 200, H / 200), dpi=200)

def box(left, right, top, bottom):
    return [left / W, 1 - bottom / H, (right - left) / W, (bottom - top) / H]

# Top panel
ax1 = fig.add_axes(box(176, 941, 15, 767))
cax1 = fig.add_axes(box(989, 1027, 15, 767))
sc1 = ax1.scatter(z_all, M_all, c=Y_all, s=7, linewidths=0, norm=norm_Y, cmap='viridis')
ax1.plot(z_limit, np.array(M_limit) * 1e13, color='darkviolet', lw=1.5)
ax1.set_yscale('log')
ax1.set_xlim(0.0363, 0.3126)
ax1.set_ylim(7.02e13, 1.238e15)
ax1.set_xlabel('$z$')
ax1.set_ylabel(r'$M_{500}$ [$M_\odot$]')
cb1 = fig.colorbar(sc1, cax=cax1)
cb1.set_label(r'$Y_{5R500}$ [arcmin$^2$]')

# Bottom panel
ax2 = fig.add_axes(box(176, 941, 941, 1693))
cax2 = fig.add_axes(box(989, 1027, 941, 1693))
sc2 = ax2.scatter(theta2, Y2, c=M2, s=9.5, linewidths=0, norm=norm_M, cmap='viridis')
ax2.set_xscale('log')
ax2.set_yscale('log')
ax2.set_xlim(2.68, 29.9)
ax2.set_ylim(10**-3.694, 10**-0.975)
ax2.set_xlabel(r'$\theta_{500}$ [arcmin]')
ax2.set_ylabel(r'$Y_{5R500}$ [arcmin$^2$]')
cb2 = fig.colorbar(sc2, cax=cax2)
cb2.set_label(r'$M_{500}$ [$M_\odot$]')

fig.savefig('out.png', dpi=200)
